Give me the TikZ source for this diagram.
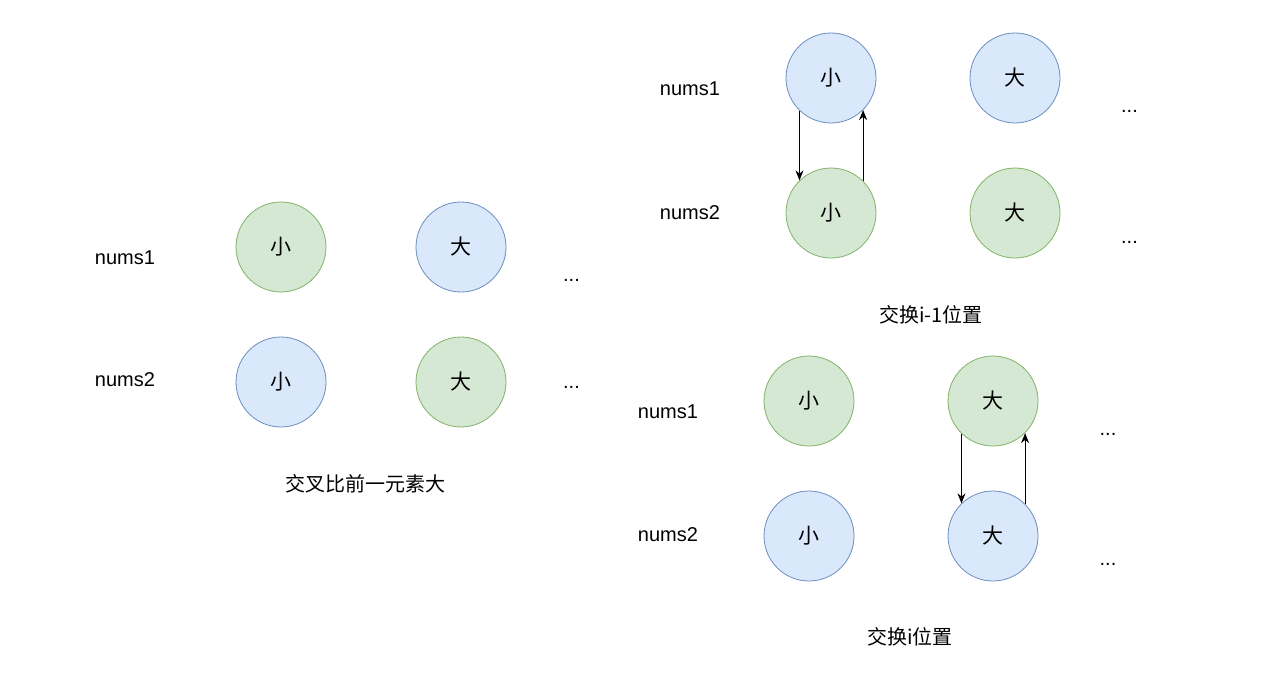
\documentclass[tikz,border=0pt]{standalone}
\usepackage{fontspec}
\setmainfont{Liberation Sans}
\newfontfamily\cjk{Noto Sans CJK SC}
\usetikzlibrary{arrows.meta}
\definecolor{bfill}{HTML}{DAE8FC}
\definecolor{bline}{HTML}{6C8EBF}
\definecolor{gfill}{HTML}{D5E8D4}
\definecolor{gline}{HTML}{82B366}
\tikzset{
  circ/.style={circle, minimum size=90pt, inner sep=0pt, line width=0.8pt, font=\cjk\fontsize{21}{24}\selectfont},
  bc/.style={circ, draw=bline, fill=bfill},
  gc/.style={circ, draw=gline, fill=gfill},
  lbl/.style={inner sep=0pt, font=\fontsize{20}{24}\selectfont},
  dots/.style={inner sep=0pt, anchor=base, font=\fontsize{20}{24}\selectfont},
  captext/.style={inner sep=0pt, font=\cjk\fontsize{20}{24}\selectfont},
  arr/.style={draw, line width=1pt, -{Stealth[length=10pt,width=8pt]}}
}
\begin{document}
\begin{tikzpicture}[x=1pt,y=-1pt]
\useasboundingbox (0,0) rectangle (1276,674);
% left group
\node[lbl] (ln1) at (125,258) {nums1};
\node[lbl] (ln2) at (125,380) {nums2};
\node[gc] (la) at (281,247) {小};
\node[bc] (lb) at (461,247) {大};
\node[bc] (lc) at (281,382) {小};
\node[gc] (ld) at (461,382) {大};
\node[dots] (ldot1) at (571.5,281) {...};
\node[dots] (ldot2) at (571.5,388) {...};
\node[captext] (lcap) at (365,484) {交叉比前一元素大};
% top right group
\node[lbl] (tn1) at (690,89) {nums1};
\node[lbl] (tn2) at (690,213) {nums2};
\node[bc] (ta) at (831,78) {小};
\node[bc] (tb) at (1015,78) {大};
\node[gc] (tc) at (831,213) {小};
\node[gc] (td) at (1015,213) {大};
\node[dots] (tdot1) at (1129.5,113) {...};
\node[dots] (tdot2) at (1129.5,243) {...};
\node[captext] (tcap) at (931,315) {交换i-1位置};
\draw[arr] (ta.226) -- (tc.134);
\draw[arr] (tc.45) -- (ta.-45);
% bottom right group
\node[lbl] (bn1) at (668,412) {nums1};
\node[lbl] (bn2) at (668,535) {nums2};
\node[gc] (ba) at (809,401) {小};
\node[gc] (bb) at (993,401) {大};
\node[bc] (bc1) at (809,536) {小};
\node[bc] (bd) at (993,536) {大};
\node[dots] (bdot1) at (1108,435) {...};
\node[dots] (bdot2) at (1108,565) {...};
\node[captext] (bcap) at (910,637) {交换i位置};
\draw[arr] (bb.226) -- (bd.134);
\draw[arr] (bd.45) -- (bb.-45);
\end{tikzpicture}
\end{document}
